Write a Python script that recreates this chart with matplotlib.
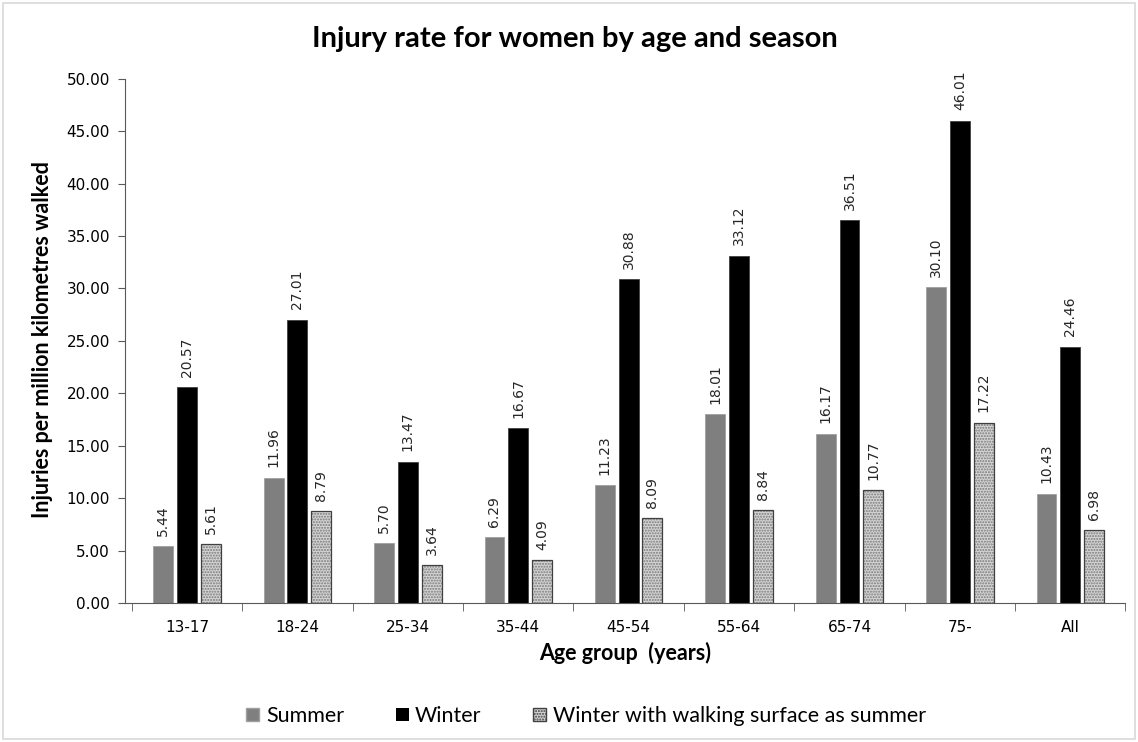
import numpy as np
import matplotlib
matplotlib.use("Agg")
import matplotlib.pyplot as plt
from matplotlib.patches import Patch

groups = ["13-17", "18-24", "25-34", "35-44", "45-54", "55-64", "65-74", "75-", "All"]
summer = [5.44, 11.96, 5.70, 6.29, 11.23, 18.01, 16.17, 30.10, 10.43]
winter = [20.57, 27.01, 13.47, 16.67, 30.88, 33.12, 36.51, 46.01, 24.46]
winter_surface = [5.61, 8.79, 3.64, 4.09, 8.09, 8.84, 10.77, 17.22, 6.98]

LABEL_FONT = "Lato"
TICK_FONT = "DejaVu Sans"

fig = plt.figure(figsize=(11.38, 7.42), dpi=100)
# light grey frame round the whole picture
fig.patches.append(plt.Rectangle((0.003, 0.004), 0.994, 0.992, transform=fig.transFigure,
                                 fill=False, edgecolor="#d9d9d9", lw=1.2))
ax = fig.add_axes([0.110, 0.187, 0.879, 0.707])

x = np.arange(len(groups))
w = 0.18
step = 0.215

ax.bar(x - step, summer, w, color="#7f7f7f", edgecolor="#a0a0a0", lw=0.6)
ax.bar(x, winter, w, color="black", edgecolor="#404040", lw=0.6)
ax.bar(x + step, winter_surface, w, color="#d4d4d4", edgecolor="#7a7a7a", hatch="......", lw=0)
ax.bar(x + step, winter_surface, w, fill=False, edgecolor="#404040", lw=0.9)

for off, vals in [(-step, summer), (0, winter), (step, winter_surface)]:
    for xi, v in zip(x, vals):
        ax.text(xi + off, v + 1.0, f"{v:.2f}", rotation=90, ha="center", va="bottom",
                fontsize=10, family=TICK_FONT, color="#262626")

ax.set_xlim(-0.56, len(groups) - 0.5)
ax.set_ylim(0, 50)
ax.set_yticks(np.arange(0, 50.01, 5))
ax.set_yticklabels([f"{t:.2f}" for t in np.arange(0, 50.01, 5)], family=TICK_FONT, fontsize=11)
ax.set_xticks(x)
ax.set_xticklabels(groups, family=TICK_FONT, fontsize=11)
ax.set_xticks(np.arange(-0.5, len(groups), 1), minor=True)
ax.tick_params(axis="x", which="major", length=0, pad=12)
ax.tick_params(axis="x", which="minor", length=6, color="#595959")
ax.tick_params(axis="y", length=5, color="#595959", pad=6)

for s in ["top", "right"]:
    ax.spines[s].set_visible(False)
for s in ["left", "bottom"]:
    ax.spines[s].set_color("#595959")

fig.text(0.505, 0.948, "Injury rate for women by age and season", family=LABEL_FONT,
         fontweight="bold", fontsize=21, ha="center", va="center")
ax.set_ylabel("Injuries per million kilometres walked", family=LABEL_FONT, fontweight="bold",
              fontsize=15.5)
ax.yaxis.set_label_coords(-0.072, 0.502)
ax.set_xlabel("Age group  (years)", family=LABEL_FONT, fontweight="bold", fontsize=15.5, labelpad=5)

handles = [Patch(facecolor="#7f7f7f", edgecolor="#a0a0a0"),
           Patch(facecolor="black"),
           Patch(facecolor="#d4d4d4", edgecolor="#404040", hatch="......")]
fig.legend(handles, ["Summer", "Winter", "Winter with walking surface as summer"],
           loc="center", bbox_to_anchor=(0.515, 0.035), ncol=3, frameon=False,
           prop={"family": LABEL_FONT, "size": 15.5}, handlelength=0.6, handleheight=0.6,
           handletextpad=0.3, columnspacing=2.4)

fig.savefig("out.png", dpi=100)
